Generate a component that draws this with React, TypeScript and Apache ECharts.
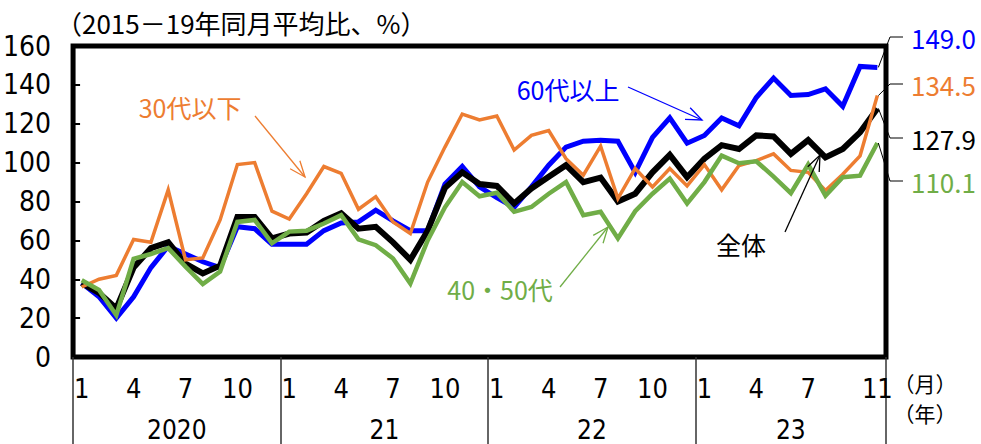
import React, { useEffect, useRef } from "react";
import * as echarts from "echarts";

const monthLabels = [
  "1","2","3","4","5","6","7","8","9","10","11","12",
  "1","2","3","4","5","6","7","8","9","10","11","12",
  "1","2","3","4","5","6","7","8","9","10","11","12",
  "1","2","3","4","5","6","7","8","9","10","11",
];
const yearLabels = ["2020", "21", "22", "23"];
const yearMonthCounts = [12, 12, 12, 11];
const shownMonths = ["1", "4", "7", "10"];

const age60plus = [
  38, 31, 20, 31, 46, 57, 53, 49, 46, 67, 66, 58,
  58, 58, 65, 69, 69.5, 75.5, 70, 65, 65, 89, 98, 87.5,
  82, 77, 87.5, 98.7, 108, 111, 111.5, 111, 95, 113, 123, 110,
  114, 123, 119, 133.5, 143.5, 134.5, 135, 138, 129, 149.5, 149.0,
];
const age30under = [
  36, 40, 42, 60.5, 59, 86, 50, 51, 70.5, 99, 100, 75,
  71, 84, 98, 94.5, 76, 82.5, 69.5, 63.5, 90, 108, 125, 122,
  124, 106.5, 114, 116.5, 102, 93.5, 108.5, 81.5, 97, 87.5, 97, 88,
  99, 86, 98.5, 101, 104.5, 96, 95, 85.7, 94, 103.5, 134.5,
];
const totalAll = [
  38, 33, 25, 46, 56, 59, 48, 43, 47, 72, 72, 61,
  63.5, 64, 70, 74, 66, 67, 59, 50, 65, 87, 95, 89,
  88, 79, 86.7, 92.7, 98.7, 90, 92.3, 80, 84, 95, 104, 92.5,
  102, 109, 107, 114, 113.5, 104.5, 111.6, 102.7, 107, 115.6, 127.9,
];
const age4050 = [
  39.5, 34.5, 21.5, 50.5, 53, 56, 46.5, 37.5, 44, 69.5, 70.5, 58.5,
  64.5, 65, 68.7, 73, 60.5, 57.5, 50.7, 37.8, 60, 77, 90, 82.7,
  84.5, 74.7, 77.2, 84, 90, 73, 74.7, 61, 75, 84, 91.8, 79,
  90, 103.6, 99.7, 100.7, 92.8, 84.3, 99, 83, 92.5, 93.3, 110.1,
];

const BLUE = "#0000ff";
const ORANGE = "#ed7d31";
const BLACK = "#000000";
const GREEN = "#70ad47";

const NUM_FONT = '"Liberation Sans Narrow", "DejaVu Sans Condensed", "Noto Sans CJK JP", sans-serif';
const JP_FONT = '"Noto Sans CJK JP", "Noto Sans", sans-serif';

function arrow(x1: number, y1: number, x2: number, y2: number, color: string) {
  const ang = Math.atan2(y2 - y1, x2 - x1);
  const L = 17;
  const a = 0.38;
  const p1 = [x2 - L * Math.cos(ang - a), y2 - L * Math.sin(ang - a)];
  const p2 = [x2 - L * Math.cos(ang + a), y2 - L * Math.sin(ang + a)];
  return [
    { type: "line", z: 100, shape: { x1, y1, x2, y2 }, style: { stroke: color, lineWidth: 1.3 } },
    { type: "polyline", z: 100, shape: { points: [p1, [x2, y2], p2] }, style: { stroke: color, fill: null, lineWidth: 1.3 } },
  ];
}

function jpText(text: string, x: number, y: number, color: string, size = 25, align = "center") {
  return {
    type: "text",
    z: 100,
    x,
    y,
    style: { text, fill: color, fontSize: size, fontFamily: JP_FONT, align, verticalAlign: "middle" },
  };
}

export default function App() {
  const ref = useRef<HTMLDivElement>(null);

  useEffect(() => {
    document.body.style.margin = "0";
    if (!ref.current) return;
    const chart = echarts.init(ref.current, undefined, { renderer: "svg" });

    const n = monthLabels.length;
    const yearCenters: number[] = [];
    const yearBounds: number[] = [0];
    let acc = 0;
    yearMonthCounts.forEach((c) => {
      yearCenters.push(acc + c / 2);
      acc += c;
      yearBounds.push(acc);
    });

    const seriesDefs = [
      { name: "60代以上", data: age60plus, color: BLUE, width: 5 },
      { name: "全体", data: totalAll, color: BLACK, width: 6 },
      { name: "30代以下", data: age30under, color: ORANGE, width: 3.5 },
      { name: "40・50代", data: age4050, color: GREEN, width: 4.5 },
    ];

    chart.setOption({
      animation: false,
      grid: {
        left: 71,
        right: 95,
        top: 46,
        bottom: 87,
        show: true,
        borderColor: "#000",
        borderWidth: 5,
        backgroundColor: "transparent",
      },
      xAxis: [
        {
          type: "category",
          data: monthLabels,
          boundaryGap: true,
          axisLine: { show: false },
          axisTick: { show: false },
          splitLine: { show: false },
          axisLabel: {
            interval: (i: number) =>
              i === n - 1 || (shownMonths.includes(monthLabels[i]) && i < n - 2),
            showMaxLabel: true,
            hideOverlap: false,
            margin: 18,
            fontSize: 27,
            fontFamily: NUM_FONT,
            color: "#000",
          },
        },
        {
          type: "value",
          min: 0,
          max: n,
          position: "bottom",
          axisLine: { show: false },
          splitLine: { show: false },
          axisTick: {
            show: true,
            customValues: yearBounds,
            length: 90,
            lineStyle: { color: "#333", width: 1.5 },
          },
          axisLabel: {
            customValues: yearCenters,
            formatter: (v: number) => {
              const k = yearCenters.indexOf(v);
              return k >= 0 ? yearLabels[k] : "";
            },
            margin: 60,
            fontSize: 26,
            fontFamily: NUM_FONT,
            color: "#000",
          },
        },
      ],
      yAxis: {
        type: "value",
        min: 0,
        max: 160,
        interval: 20,
        axisLine: { show: false },
        splitLine: { show: false },
        axisTick: { show: true, inside: true, length: 7, lineStyle: { color: "#000", width: 2 } },
        axisLabel: { fontSize: 28, fontFamily: NUM_FONT, color: "#000", margin: 22 },
      },
      series: seriesDefs.map((s) => ({
        name: s.name,
        type: "line",
        data: s.data,
        symbol: "none",
        lineStyle: { color: s.color, width: s.width, join: "miter" },
        itemStyle: { color: s.color },
      })),
    });

    const endLabels = [
      { data: age60plus, color: BLUE, y: 37 },
      { data: age30under, color: ORANGE, y: 84 },
      { data: totalAll, color: BLACK, y: 138 },
      { data: age4050, color: GREEN, y: 181 },
    ];
    const graphics: any[] = [];
    endLabels.forEach((e) => {
      const v = e.data[n - 1];
      const p = chart.convertToPixel({ xAxisIndex: 0, yAxisIndex: 0 }, [n - 1, v]) as number[];
      graphics.push({
        type: "polyline",
        z: 100,
        shape: { points: [[p[0] + 1, p[1]], [890, e.y], [903, e.y]] },
        style: { stroke: "#000", fill: null, lineWidth: 1 },
      });
      graphics.push(jpText(v.toFixed(1), 911, e.y, e.color, 26, "left"));
    });

    graphics.push(jpText("（2015－19年同月平均比、%）", 56, 22, "#000", 26, "left"));
    graphics.push(jpText("（月）", 925, 383, "#000", 21, "center"));
    graphics.push(jpText("（年）", 925, 413, "#000", 21, "center"));

    graphics.push(jpText("30代以下", 190, 107, ORANGE));
    graphics.push(...arrow(255, 116, 305, 177, ORANGE));
    graphics.push(jpText("60代以上", 568, 89, BLUE));
    graphics.push(...arrow(628, 87, 702, 120, BLUE));
    graphics.push(jpText("40・50代", 500, 289, GREEN));
    graphics.push(...arrow(560, 287, 608, 227, GREEN));
    graphics.push(jpText("全体", 741, 244, BLACK));
    graphics.push(...arrow(785, 232, 820, 155, BLACK));

    chart.setOption({ graphic: graphics });

    return () => {
      chart.dispose();
    };
  }, []);

  return (
    <div
      ref={ref}
      style={{ position: "absolute", left: 0, top: 0, width: 981, height: 444, background: "#fff" }}
    />
  );
}
